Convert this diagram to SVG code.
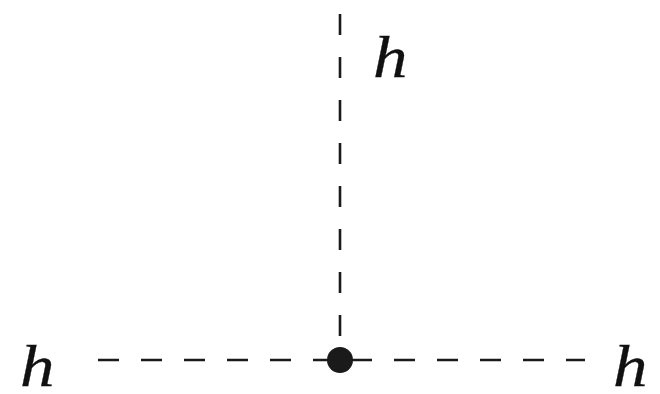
<svg xmlns="http://www.w3.org/2000/svg" width="660" height="394" viewBox="0 0 660 394">
<style>
.l{stroke:#1a1a1a;stroke-width:2.6;stroke-dasharray:21 22;fill:none}
.t{font-family:"Liberation Serif",serif;font-style:italic;font-size:60px;fill:#111;stroke:#111;stroke-width:0.3}
</style>
<rect width="660" height="394" fill="#fff"/>
<g id="connectors">
<line class="l" x1="340" y1="14" x2="340" y2="360"/>
<line class="l" x1="98" y1="360" x2="340" y2="360"/>
<line class="l" x1="340" y1="360" x2="585" y2="360" style="stroke-dashoffset:-11"/>
</g>
<g id="vertex"><circle cx="340" cy="360" r="13" fill="#1a1a1a"/></g>
<g id="h-top"><text class="t" transform="translate(373 77) scale(1.15 1)">h</text></g>
<g id="h-left"><text class="t" transform="translate(20 386) scale(1.15 1)">h</text></g>
<g id="h-right"><text class="t" transform="translate(613 386) scale(1.15 1)">h</text></g>
</svg>
